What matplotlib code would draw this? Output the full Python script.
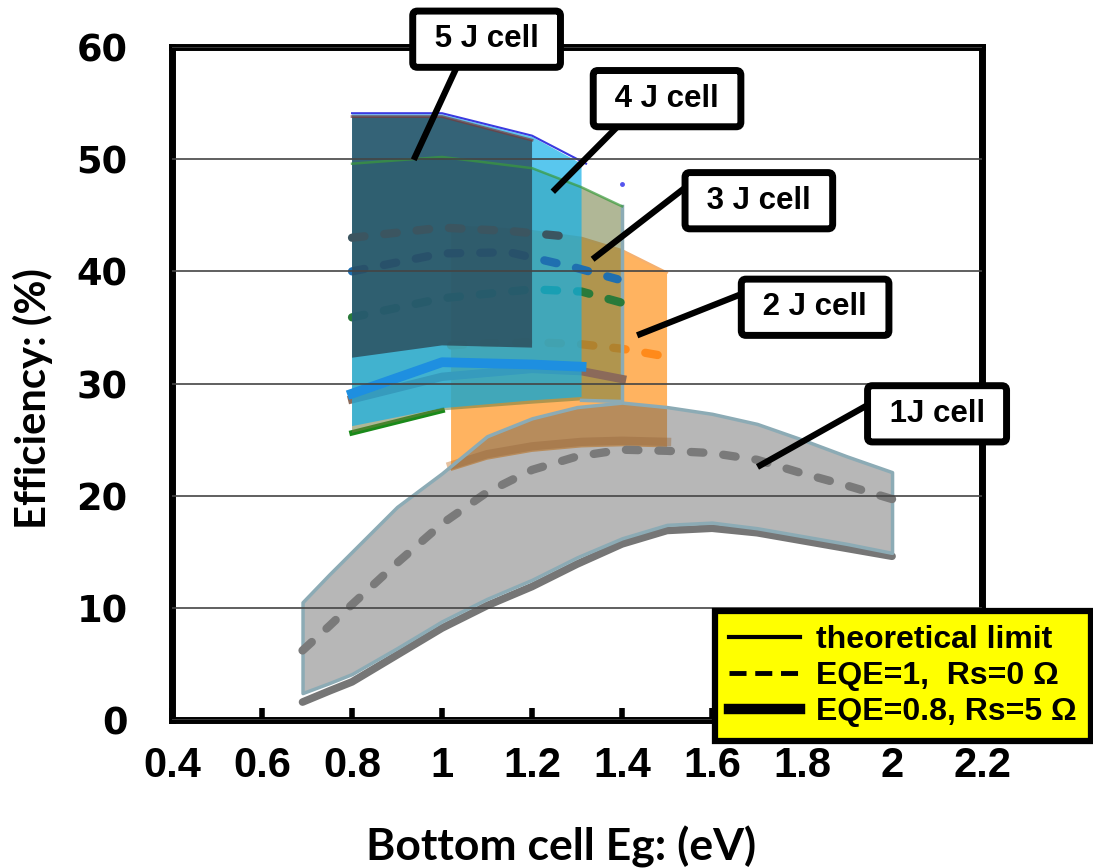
import matplotlib.pyplot as plt
from matplotlib.lines import Line2D

####### data #######

# 1 J cell
x1 = [0.69, 0.75, 0.8, 0.9, 1.0, 1.1, 1.2, 1.3, 1.4, 1.5, 1.6, 1.7, 1.8, 1.9, 2.0]
top1 = [10.5, 13.0, 15.0, 19.0, 22.0, 25.3, 26.9, 27.9, 28.3, 27.9, 27.3, 26.4, 25.0, 23.5, 22.1]
dash1 = [6.2, 8.4, 10.3, 14.0, 17.5, 20.3, 22.3, 23.5, 24.1, 24.0, 23.8, 23.2, 22.0, 20.9, 19.7]
bot1 = [2.4, 3.3, 4.1, 6.4, 8.8, 10.8, 12.5, 14.5, 16.2, 17.4, 17.6, 17.1, 16.4, 15.7, 14.9]
thick1 = [1.6, 2.6, 3.4, 5.8, 8.2, 10.2, 11.9, 13.9, 15.7, 16.9, 17.1, 16.7, 16.0, 15.3, 14.6]

# 2 J cell
x2 = [1.02, 1.1, 1.2, 1.31, 1.4, 1.5]
top2 = [44.0, 43.9, 43.6, 43.0, 41.9, 39.9]
bot2 = [22.2, 23.2, 23.9, 24.3, 24.4, 24.3]
dash2 = [33.4, 33.6, 33.7, 33.5, 33.1, 32.4]

# 3 J cell
x3 = [0.8, 1.0, 1.2, 1.31, 1.4]
top3 = [49.6, 50.2, 49.2, 47.5, 45.8]
bot3 = [25.6, 27.6, 28.2, 28.5, 28.4]
dash3 = [35.9, 37.6, 38.4, 38.2, 37.2]
thick3 = [28.6, 30.6, 31.3, 31.1, 30.4]

# 4 J cell
x4 = [0.8, 1.0, 1.2, 1.31]
top4 = [54.0, 54.0, 52.0, 49.6]
bot4 = [26.2, 27.8, 28.5, 28.8]
thick4 = [29.1, 31.9, 31.7, 31.5]
dash4_x = [0.8, 1.0, 1.15, 1.29, 1.39]
dash4 = [40.0, 41.6, 41.7, 40.4, 39.3]
lim4_x = [0.8, 1.0, 1.2, 1.32]
lim4 = [54.1, 54.1, 52.1, 49.6]

# 5 J cell
x5 = [0.8, 1.0, 1.2]
top5 = [53.8, 53.8, 51.7]
bot5 = [32.3, 33.4, 33.2]
dash5_x = [0.8, 1.0, 1.15, 1.28]
dash5 = [43.0, 43.9, 43.6, 43.1]

# label boxes: text, box centre, leader start, leader end (data units)
cell_labels = ["5 J cell", "4 J cell", "3 J cell", "2 J cell", "1J cell"]
label_xy = [(1.099, 60.7), (1.50, 55.4), (1.704, 46.3), (1.829, 36.8), (2.10, 27.3)]
lead_from = [(1.036, 58.5), (1.407, 53.6), (1.551, 47.8), (1.673, 38.1), (1.951, 28.2)]
lead_to = [(0.94, 50.2), (1.251, 47.3), (1.34, 41.25), (1.44, 34.4), (1.707, 22.7)]

xticks = [0.4, 0.6, 0.8, 1.0, 1.2, 1.4, 1.6, 1.8, 2.0, 2.2]
xtick_labels = ["0.4", "0.6", "0.8", "1", "1.2", "1.4", "1.6", "1.8", "2", "2.2"]
yticks = [0, 10, 20, 30, 40, 50, 60]

legend_labels = ["theoretical limit", "EQE=1,  Rs=0 \u03a9", "EQE=0.8, Rs=5 \u03a9"]

####### plot #######

plt.rcParams['font.family'] = ['Liberation Sans', 'DejaVu Sans']

fig = plt.figure(figsize=(10.93, 8.68), dpi=100)
ax = fig.add_axes([0.1574, 0.1705, 0.7411, 0.7753])

dash_ls = (0, (1.5, 2.4))
edge_c = '#8cabb5'

# 2J
ax.fill_between(x2, bot2, top2, facecolor=(1.0, 0.62, 0.2, 0.78), edgecolor='none', zorder=1.0)
ax.plot(x2, [b + 0.5 for b in bot2], color='#c8762a', lw=6, alpha=0.45, zorder=1.02)
ax.plot(x2, top2, color='#f4b070', lw=1.5, zorder=1.02)
ax.plot(x2, dash2, color='#ff8a1a', lw=6, ls=dash_ls, dash_capstyle='round', zorder=1.05)

# 1J
ax.plot(x1, thick1, color='#767676', lw=5.5, solid_capstyle='round', zorder=1.09)
ax.fill_between(x1, bot1, top1, facecolor=(0.35, 0.35, 0.35, 0.43), edgecolor=edge_c,
                linewidth=2.5, zorder=1.1)
ax.plot(x1, dash1, color='#7a7a7a', lw=6, ls=dash_ls, dash_capstyle='round', zorder=1.15)

# 3J
ax.fill_between(x3, bot3, top3, facecolor=(0.44, 0.49, 0.25, 0.55), edgecolor='none', zorder=1.2)
ax.plot(x3[:2], bot3[:2], color='#1a8a1a', lw=4, zorder=1.19)
ax.plot(x3[-2:], bot3[-2:], color=edge_c, lw=2.5, zorder=1.21)
ax.plot([x3[-1], x3[-1]], [bot3[-1], top3[-1]], color=edge_c, lw=2.5, zorder=1.21)
ax.plot(x3, thick3, color='#8b6a5a', lw=6, zorder=1.22)
ax.plot(x3, dash3, color='#2a7a3a', lw=6, ls=dash_ls, dash_capstyle='round', zorder=1.25)

# 4J
ax.fill_between(x4, bot4, top4, facecolor=(0.07, 0.69, 0.91, 0.7), edgecolor='none', zorder=1.3)
ax.plot(x4, thick4, color='#1e8fe0', lw=7, zorder=1.33)
ax.plot(dash4_x, dash4, color='#1f6fb0', lw=6, ls=dash_ls, dash_capstyle='round', zorder=1.35)
ax.plot(lim4_x, lim4, color='#3a3ae0', lw=1.5, zorder=1.5)
ax.plot([1.4], [47.8], 'o', color='#5555ee', ms=2.5, zorder=1.5)

# 5J
ax.fill_between(x5, bot5, top5, facecolor=(0.17, 0.29, 0.35, 0.8), edgecolor='none', zorder=1.4)
ax.plot(x5, top5, color='#7a3a3a', lw=2, alpha=0.7, zorder=1.45)
ax.plot(dash5_x, dash5, color='#3b5560', lw=6, ls=dash_ls, dash_capstyle='round', zorder=1.45)

# 3J theoretical limit line shows through everything
ax.plot(x3, top3, color='#3a9a3a', lw=1.8, alpha=0.7, zorder=1.5)

# axes
ax.set_xlim(0.4, 2.2)
ax.set_ylim(0, 60)
ax.set_axisbelow(False)
ax.grid(axis='y', color='#444444', lw=1.2)
for s in ax.spines.values():
    s.set_linewidth(5)

ax.set_xticks(xticks)
ax.set_xticklabels(xtick_labels, fontsize=30, fontweight='bold', family='Liberation Sans')
ax.set_yticks(yticks)
ax.set_yticklabels([str(v) for v in yticks], fontsize=26.5, fontweight='bold', family='DejaVu Sans')
ax.tick_params(axis='x', direction='in', length=9, width=4, pad=19)
ax.tick_params(axis='y', length=0, pad=32)

ax.set_xlabel('Bottom cell Eg: (eV)', fontsize=32, fontweight='bold', family=['Lato', 'DejaVu Sans'])
ax.set_ylabel('Efficiency: (%)', fontsize=30, fontweight='bold', family=['Lato', 'DejaVu Sans'])
ax.xaxis.set_label_coords(0.48, -0.158)
ax.yaxis.set_label_coords(-0.147, 0.478)

# label boxes with leader lines
for name, xy, p0, p1 in zip(cell_labels, label_xy, lead_from, lead_to):
    ax.plot([p0[0], p1[0]], [p0[1], p1[1]], color='black', lw=4.5, zorder=9, clip_on=False)
    ax.text(xy[0], xy[1], ' ' + name + ' ', ha='center', va='center', fontsize=22.5,
            fontweight='bold', zorder=10,
            bbox=dict(boxstyle='round,pad=0.42,rounding_size=0.15', fc='white', ec='black', lw=5))

# legend
handles = [Line2D([], [], color='black', lw=3),
           Line2D([], [], color='black', lw=3.5, ls=(0, (3.5, 1.8))),
           Line2D([], [], color='black', lw=7.5)]
leg = fig.legend(handles, legend_labels, loc='upper left',
                 bbox_to_anchor=(715 / 1093, 1 - 611 / 868), bbox_transform=fig.transFigure,
                 prop={'weight': 'bold', 'size': 23}, facecolor='yellow', edgecolor='black',
                 framealpha=1, fancybox=False, borderpad=0.45, labelspacing=0.18,
                 handlelength=2.2, handletextpad=0.5, borderaxespad=0)
leg.get_frame().set_linewidth(4.5)

fig.savefig('out.png', dpi=100)
